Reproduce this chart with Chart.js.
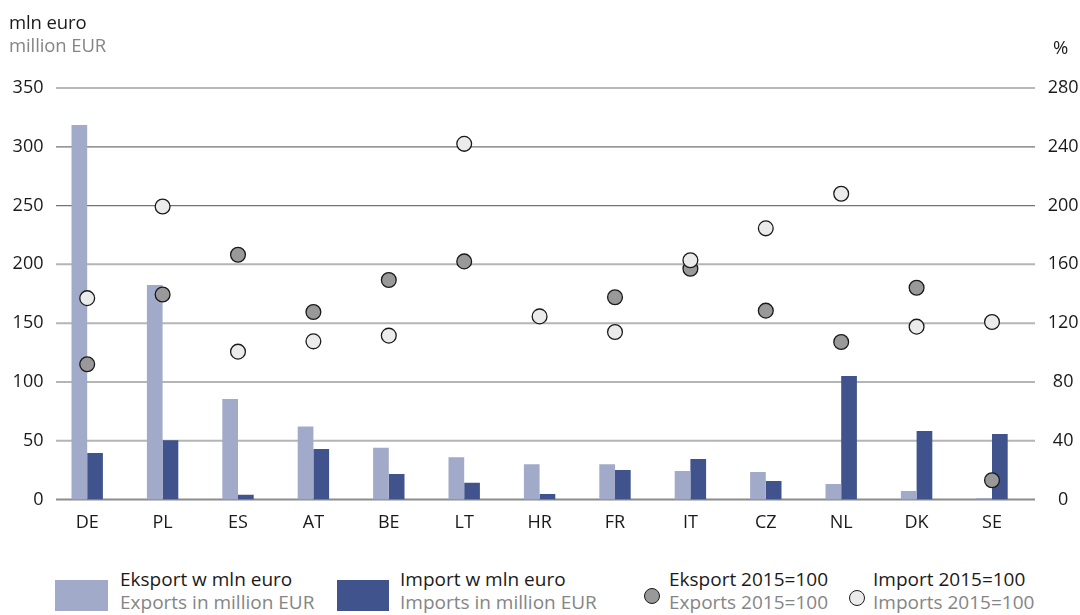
<!DOCTYPE html>
<html>
<head>
<meta charset="utf-8">
<script src="https://cdn.jsdelivr.net/npm/chart.js@4.4.1/dist/chart.umd.min.js"></script>
<style>
  html, body { margin:0; padding:0; background:#fff; }
  #wrap { position:relative; width:1080px; height:615px; overflow:hidden; font-family:"Open Sans", sans-serif; }
  #c { position:absolute; left:0; top:0; }
  .t { position:absolute; font-size:18.5px; line-height:22px; white-space:nowrap; color:#1a1a1a; letter-spacing:-0.1px; }
  .lg { font-size:19px; letter-spacing:0; }
  .g { color:#858585; }
  .sq { position:absolute; }
  .dot { position:absolute; width:14px; height:14px; border-radius:50%; border:1.3px solid #1a1a1a; }
</style>
</head>
<body>
<div id="wrap">
  <canvas id="c" width="1080" height="540"></canvas>
  <div class="t" style="left:9px;top:11px;">mln euro</div>
  <div class="t g" style="left:9px;top:34px;">million EUR</div>
  <div class="t" style="left:1053px;top:36px;">%</div>

  <div class="sq" style="left:55px;top:580px;width:53px;height:31px;background:#a1aac8;"></div>
  <div class="t lg" style="left:120px;top:568px;">Eksport w mln euro</div>
  <div class="t lg g" style="left:120px;top:591px;">Exports in million EUR</div>

  <div class="sq" style="left:337px;top:580px;width:52px;height:31px;background:#41538c;"></div>
  <div class="t lg" style="left:400px;top:568px;">Import w mln euro</div>
  <div class="t lg g" style="left:400px;top:591px;">Imports in million EUR</div>

  <div class="dot" style="left:644px;top:588px;background:#999999;"></div>
  <div class="t lg" style="left:669px;top:568px;">Eksport 2015=100</div>
  <div class="t lg g" style="left:669px;top:591px;">Exports 2015=100</div>

  <div class="dot" style="left:849px;top:590px;background:#ebebeb;"></div>
  <div class="t lg" style="left:873px;top:568px;">Import 2015=100</div>
  <div class="t lg g" style="left:873px;top:591px;">Imports 2015=100</div>
</div>
<script>
const categories = ["DE","PL","ES","AT","BE","LT","HR","FR","IT","CZ","NL","DK","SE"];
const exportMlnEur = [318.5, 182.5, 85.5, 62, 44, 36, 30, 30, 24.2, 23.4, 13.2, 7.2, 1.3];
const importMlnEur = [39.5, 50.5, 4, 43, 21.7, 14.3, 4.7, 25.1, 34.4, 15.7, 105, 58.3, 55.7];
const exportIndex = [92, 139.5, 166.5, 127.6, 149.4, 162, null, 137.6, 157, 128.5, 107.2, 144.1, 13.1];
const importIndex = [137, 199.4, 100.6, 107.6, 111.5, 242, 124.6, 114, 162.8, 184.5, 208, 117.6, 120.8];
const leftTicks = [0, 50, 100, 150, 200, 250, 300, 350];
const rightTicks = [0, 40, 80, 120, 160, 200, 240, 280];

const FONT = { family: "'Open Sans', sans-serif", size: 18 };

const gridPlugin = {
  id: 'gridPlugin',
  beforeDatasetsDraw(chart) {
    const ctx = chart.ctx;
    const y = chart.scales.y;
    ctx.save();
    leftTicks.forEach(v => {
      const py = y.getPixelForValue(v);
      if (v === 0) { ctx.strokeStyle = '#8c8c8c'; ctx.lineWidth = 2; }
      else if (v >= 250) { ctx.strokeStyle = '#737373'; ctx.lineWidth = 1.2; }
      else { ctx.strokeStyle = '#b5b5b5'; ctx.lineWidth = 2; }
      ctx.beginPath();
      ctx.moveTo(56, py);
      ctx.lineTo(1035, py);
      ctx.stroke();
    });
    ctx.restore();
  }
};

new Chart(document.getElementById('c'), {
  type: 'bar',
  data: {
    labels: categories,
    datasets: [
      { type: 'line', label: 'Import 2015=100', data: importIndex, yAxisID: 'y1', showLine: false,
        pointRadius: 7.4, pointHoverRadius: 7.4, pointBackgroundColor: '#ebebeb', pointBorderColor: '#1a1a1a',
        pointBorderWidth: 1.3, backgroundColor: '#ebebeb', borderColor: '#1a1a1a', order: 1 },
      { type: 'line', label: 'Eksport 2015=100', data: exportIndex, yAxisID: 'y1', showLine: false,
        pointRadius: 7.4, pointHoverRadius: 7.4, pointBackgroundColor: '#999999', pointBorderColor: '#1a1a1a',
        pointBorderWidth: 1.3, backgroundColor: '#999999', borderColor: '#1a1a1a', order: 2 },
      { label: 'Eksport w mln euro', data: exportMlnEur, yAxisID: 'y', backgroundColor: '#a1aac8',
        barPercentage: 1, categoryPercentage: 0.4165, order: 3 },
      { label: 'Import w mln euro', data: importMlnEur, yAxisID: 'y', backgroundColor: '#41538c',
        barPercentage: 1, categoryPercentage: 0.4165, order: 4 }
    ]
  },
  options: {
    responsive: false,
    animation: false,
    devicePixelRatio: 1,
    layout: { padding: { top: 88, left: 0, right: 0, bottom: 0 } },
    plugins: { legend: { display: false }, tooltip: { enabled: false } },
    scales: {
      x: {
        grid: { display: false, drawTicks: false },
        border: { display: false },
        ticks: { font: FONT, color: '#1a1a1a', padding: 13, maxRotation: 0 },
        afterFit(s) { s.height = 40.5; }
      },
      y: {
        position: 'left', min: 0, max: 350,
        afterBuildTicks(s) { s.ticks = leftTicks.map(v => ({ value: v })); },
        grid: { display: false, drawTicks: false },
        border: { display: false },
        ticks: { font: FONT, color: '#1a1a1a', padding: 6 },
        afterFit(s) { s.width = 49.5; }
      },
      y1: {
        position: 'right', min: 0, max: 280,
        afterBuildTicks(s) { s.ticks = rightTicks.map(v => ({ value: v })); },
        grid: { display: false, drawTicks: false },
        border: { display: false },
        ticks: { font: FONT, color: '#1a1a1a', padding: 18, crossAlign: 'center' },
        afterFit(s) { s.width = 50.3; }
      }
    }
  },
  plugins: [gridPlugin]
});
</script>
</body>
</html>
